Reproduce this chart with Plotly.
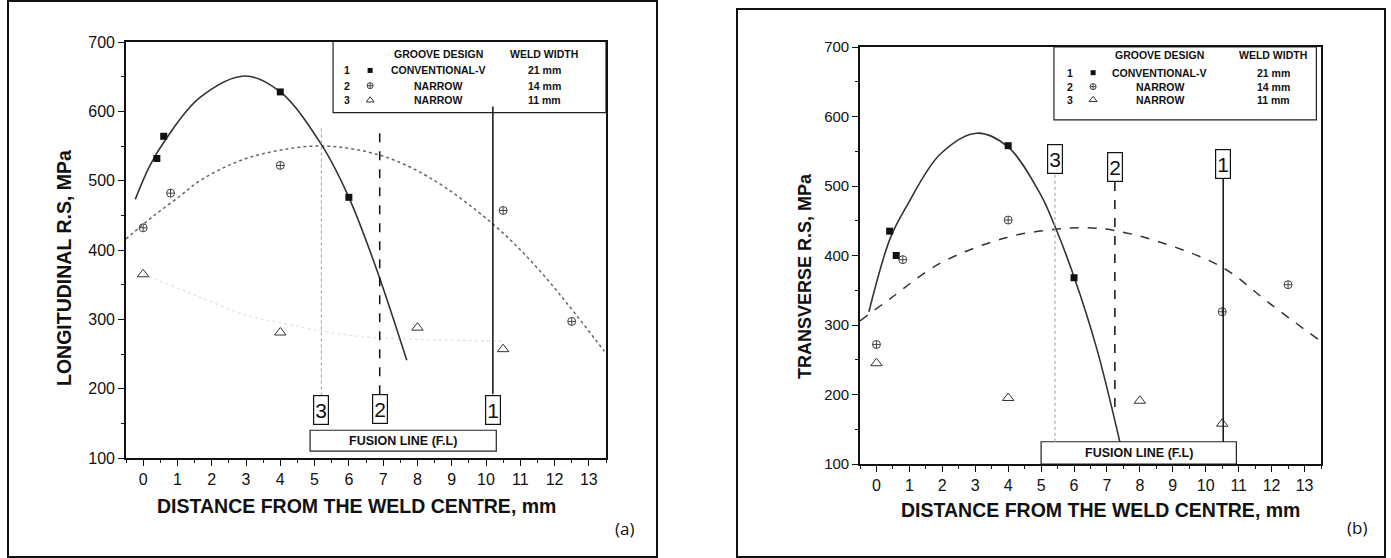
import plotly.graph_objects as go

# ---------------- data ----------------
x_ticks = list(range(0, 14))
y_ticks = [100, 200, 300, 400, 500, 600, 700]

# (a) longitudinal residual stress
a_sq_x = [0.4, 0.6, 4.0, 6.0]
a_sq_y = [532, 564, 628, 476]
a_cr_x = [0.0, 0.8, 4.0, 10.5, 12.5]
a_cr_y = [432, 482, 522, 457, 297]
a_tr_x = [0.0, 4.0, 8.0, 10.5]
a_tr_y = [365, 281, 288, 257]

a_fit1_x = [-0.23, 0.2, 0.69, 1.66, 2.97, 4.0, 5.2, 6.0, 6.81, 7.69]
a_fit1_y = [473, 522, 562, 620, 651, 628, 552, 476, 372, 241]
a_fit2_x = [-0.5, 0.3, 1.08, 1.66, 2.63, 3.6, 5.2, 6.89, 8.37, 10.21, 11.57, 13.45]
a_fit2_y = [416, 449, 478, 500, 525, 540, 550, 537, 504, 437, 370, 254]
a_fit3_x = [0.0, 1.3, 2.0, 3.0, 4.0, 6.0, 8.0, 10.5]
a_fit3_y = [365, 339, 325, 306, 295, 277, 271, 269]

a_fl_x = [5.2, 6.9, 10.2]          # fusion-line positions for designs 3, 2, 1
a_fl_top = [579, 576, 607]
a_fl_bot = [190, 192, 192]
a_fl_lab = ["3", "2", "1"]
a_fl_lab_y = [169, 171, 169]

# (b) transverse residual stress
b_sq_x = [0.4, 0.6, 4.0, 6.0]
b_sq_y = [435, 400, 558, 368]
b_cr_x = [0.0, 0.8, 4.0, 10.5, 12.5]
b_cr_y = [272, 394, 451, 319, 358]
b_tr_x = [0.0, 4.0, 8.0, 10.5]
b_tr_y = [245, 195, 191, 158]

b_fit1_x = [-0.23, 0.42, 0.93, 1.94, 3.05, 4.0, 4.97, 5.42, 6.01, 6.69, 7.39]
b_fit1_y = [319, 425, 472, 546, 576, 556, 489, 442, 368, 266, 132]
b_fit2_x = [-0.5, 0.42, 1.94, 3.96, 5.48, 6.4, 7.22, 8.5, 10.5, 11.94, 13.45]
b_fit2_y = [306, 338, 389, 426, 438, 440, 436, 421, 383, 331, 278]

b_fl_x = [5.42, 7.24, 10.53]
b_fl_top = [522, 506, 510]
b_fl_bot = [132, 182, 132]
b_fl_lab = ["3", "2", "1"]
b_fl_lab_y = [539, 528, 532]

leg_num = ["1", "2", "3"]
leg_design = ["CONVENTIONAL-V", "NARROW", "NARROW"]
leg_width = ["21 mm", "14 mm", "11 mm"]

# ---------------- styling ----------------
W, H = 1391, 558
SANS = "Liberation Sans, Arial, sans-serif"


def px(x):
    return x / W


def py(y):
    return 1 - y / H


fig = go.Figure()

SQ = dict(symbol="square", size=7, color="#111")
CR = dict(symbol="circle-cross-open", size=8, color="#444", line=dict(width=1))
TR = dict(symbol="triangle-up-open", size=10, color="#333", line=dict(width=1))


def add_panel(xa, ya, sq, cr, tr, fits):
    for fx, fy, ln in fits:
        fig.add_trace(go.Scatter(x=fx, y=fy, mode="lines", line=ln, line_shape="spline",
                                 xaxis=xa, yaxis=ya, showlegend=False, hoverinfo="skip"))
    fig.add_trace(go.Scatter(x=sq[0], y=sq[1], mode="markers", marker=SQ,
                             xaxis=xa, yaxis=ya, showlegend=False))
    fig.add_trace(go.Scatter(x=cr[0], y=cr[1], mode="markers", marker=CR,
                             xaxis=xa, yaxis=ya, showlegend=False))
    fig.add_trace(go.Scatter(x=tr[0], y=tr[1], mode="markers", marker=TR,
                             xaxis=xa, yaxis=ya, showlegend=False))


add_panel("x", "y", (a_sq_x, a_sq_y), (a_cr_x, a_cr_y), (a_tr_x, a_tr_y), [
    (a_fit3_x, a_fit3_y, dict(color="#e6e6e6", width=1.5, dash="dot")),
    (a_fit2_x, a_fit2_y, dict(color="#666", width=1.5, dash="dot")),
    (a_fit1_x, a_fit1_y, dict(color="#333", width=1.6)),
])
add_panel("x2", "y2", (b_sq_x, b_sq_y), (b_cr_x, b_cr_y), (b_tr_x, b_tr_y), [
    (b_fit2_x, b_fit2_y, dict(color="#333", width=1.5, dash="dash")),
    (b_fit1_x, b_fit1_y, dict(color="#333", width=1.6)),
])

line_styles = [dict(color="#aaa", width=1.2, dash="dot"),
               dict(color="#111", width=1.5, dash="dash"),
               dict(color="#111", width=1.5)]

shapes = []
annotations = []


def add_fusion(xr, yr, xs, tops, bots, labs, laby, box, lab_h):
    for i, xv in enumerate(xs):
        shapes.append(dict(type="line", xref=xr, yref=yr, x0=xv, x1=xv, y0=bots[i], y1=tops[i],
                           line=line_styles[i]))
        annotations.append(dict(xref=xr, yref=yr, x=xv, y=laby[i], text=labs[i], showarrow=False,
                                font=dict(family=SANS, size=21, color="#111"),
                                bordercolor="#111", borderwidth=1.2, borderpad=0,
                                width=14, height=lab_h, bgcolor="white"))
    shapes.append(dict(type="rect", xref=xr, yref=yr, x0=box[0], x1=box[1], y0=box[2], y1=box[3],
                       line=dict(color="#222", width=1.2), fillcolor="white", layer="below"))
    annotations.append(dict(xref=xr, yref=yr, x=(box[0] + box[1]) / 2, y=(box[2] + box[3]) / 2,
                            text="<b>FUSION LINE (F.L)</b>", showarrow=False,
                            font=dict(family=SANS, size=12.5, color="#111")))


add_fusion("x", "y", a_fl_x, a_fl_top, a_fl_bot, a_fl_lab, a_fl_lab_y, (4.87, 10.3, 110, 140), 28)
add_fusion("x2", "y2", b_fl_x, b_fl_top, b_fl_bot, b_fl_lab, b_fl_lab_y, (5.0, 10.93, 100, 132), 28)


def add_legend(xr, yr, box, hdr_y, rows_y, cols, markers_tr):
    shapes.append(dict(type="rect", xref=xr, yref=yr, x0=box[0], x1=box[1], y0=box[2], y1=box[3],
                       line=dict(color="#222", width=1.2), fillcolor="white", layer="below"))
    f = dict(family=SANS, size=10.5, color="#111")
    annotations.append(dict(xref=xr, yref=yr, x=cols["design"], y=hdr_y, text="<b>GROOVE DESIGN</b>",
                            showarrow=False, font=f))
    annotations.append(dict(xref=xr, yref=yr, x=cols["width"], y=hdr_y, text="<b>WELD WIDTH</b>",
                            showarrow=False, font=f))
    for i in range(3):
        annotations.append(dict(xref=xr, yref=yr, x=cols["num"], y=rows_y[i], text="<b>" + leg_num[i] + "</b>",
                                showarrow=False, font=f))
        annotations.append(dict(xref=xr, yref=yr, x=cols["design"], y=rows_y[i],
                                text="<b>" + leg_design[i] + "</b>", showarrow=False, font=f))
        annotations.append(dict(xref=xr, yref=yr, x=cols["width"], y=rows_y[i],
                                text="<b>" + leg_width[i] + "</b>", showarrow=False, font=f))
    mk = [dict(SQ, size=5), dict(CR, size=6), dict(TR, size=7)]
    for i in range(3):
        fig.add_trace(go.Scatter(x=[cols["mark"]], y=[rows_y[i]], mode="markers", marker=mk[i],
                                 xaxis=markers_tr[0], yaxis=markers_tr[1], showlegend=False,
                                 cliponaxis=False, hoverinfo="skip"))


add_legend("x", "y", (5.54, 13.5, 598, 704), 683, [659, 637, 616],
           dict(num=5.94, mark=6.62, design=8.6, width=11.7), ("x", "y"))
add_legend("x2", "y2", (5.39, 13.36, 595, 700), 688, [663, 643, 624],
           dict(num=5.88, mark=6.58, design=8.6, width=12.05), ("x2", "y2"))

# panel frames
shapes.append(dict(type="rect", xref="paper", yref="paper", x0=px(8), x1=px(657), y0=py(557), y1=py(1),
                   line=dict(color="#111", width=2)))
shapes.append(dict(type="rect", xref="paper", yref="paper", x0=px(737), x1=px(1385), y0=py(557), y1=py(9),
                   line=dict(color="#111", width=2)))

# titles and panel letters
TITLE_F = dict(family=SANS, size=19.5, color="#111")
C = dict(xref="paper", yref="paper", xanchor="center", yanchor="middle", showarrow=False)
annotations += [
    dict(C, x=px(356), y=py(506), text="<b>DISTANCE FROM THE WELD CENTRE, mm</b>", font=TITLE_F),
    dict(C, x=px(1100), y=py(510), text="<b>DISTANCE FROM THE WELD CENTRE, mm</b>", font=TITLE_F),
    dict(C, x=px(64), y=py(268), text="<b>LONGITUDINAL R.S, MPa</b>", textangle=-90, font=TITLE_F),
    dict(C, x=px(805), y=py(276), text="<b>TRANSVERSE R.S, MPa</b>", textangle=-90,
         font=dict(family=SANS, size=18, color="#111")),
    dict(C, x=px(624), y=py(528), text="(a)", font=dict(family="Open Sans, Liberation Sans", size=17, color="#111")),
    dict(C, x=px(1357), y=py(527), text="(b)", font=dict(family="Open Sans, Liberation Sans", size=17, color="#111")),
]

AX = dict(showgrid=False, zeroline=False, showline=True, mirror=True, linecolor="#111", linewidth=1.6,
          ticks="outside", ticklen=6, tickwidth=1.4, tickcolor="#111", automargin=False)
XA = dict(AX, range=[-0.5, 13.5], tickvals=x_ticks,
          minor=dict(ticks="outside", ticklen=3, tickwidth=1, tickcolor="#111", dtick=0.5, tick0=0.5))
YA = dict(AX, range=[100, 700], tickvals=y_ticks,
          minor=dict(ticks="outside", ticklen=3, tickwidth=1, tickcolor="#111", dtick=50))
TF = dict(family=SANS, size=16, color="#111")

fig.update_layout(
    width=W, height=H, margin=dict(l=0, r=0, t=0, b=0),
    paper_bgcolor="white", plot_bgcolor="white", showlegend=False,
    xaxis=dict(XA, domain=[px(126), px(606)], anchor="y", tickfont=TF),
    yaxis=dict(YA, domain=[py(458), py(42)], anchor="x", tickfont=TF),
    xaxis2=dict(XA, domain=[px(860), px(1321)], anchor="y2", tickfont=TF),
    yaxis2=dict(YA, domain=[py(464), py(47)], anchor="x2", tickfont=dict(family=SANS, size=15, color="#111")),
    shapes=shapes, annotations=annotations,
)

fig.write_html("out.html", config={"displayModeBar": False},
               post_script="document.body.style.margin='0';")
